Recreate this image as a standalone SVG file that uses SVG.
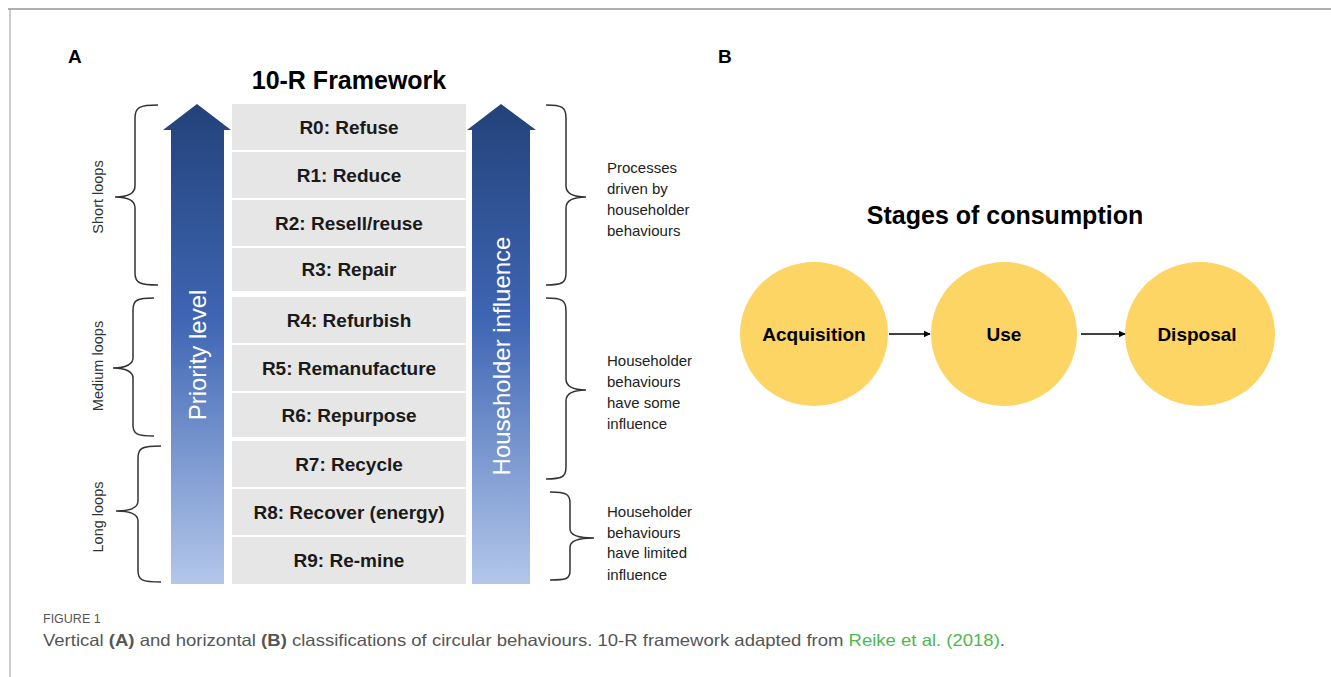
<svg xmlns="http://www.w3.org/2000/svg" width="1331" height="677" viewBox="0 0 1331 677">
<defs>
<linearGradient id="arrowGrad" x1="0" y1="104" x2="0" y2="584" gradientUnits="userSpaceOnUse">
<stop offset="0" stop-color="#23427a"/>
<stop offset="0.45" stop-color="#3f66b4"/>
<stop offset="1" stop-color="#b3c7ea"/>
</linearGradient>
<marker id="ah" viewBox="0 0 10 10" refX="9" refY="5" markerWidth="7" markerHeight="7" orient="auto" markerUnits="userSpaceOnUse">
<path d="M0,0 L10,5 L0,10 z" fill="#000"/>
</marker>
<style>
.lbl{font-family:"Liberation Sans",Arial,sans-serif;font-weight:bold;fill:#000;}
.title{font-family:"Liberation Sans",Arial,sans-serif;font-weight:bold;font-size:25px;fill:#000;text-anchor:middle;}
.row{fill:#e7e6e6;}
.rt{font-family:"Liberation Sans",Arial,sans-serif;font-weight:bold;font-size:19px;fill:#1a1a1a;text-anchor:middle;}
.arrtxt{font-family:"Liberation Sans",Arial,sans-serif;font-size:24px;fill:#fff;text-anchor:middle;}
.loop{font-family:"Liberation Sans",Arial,sans-serif;font-size:14.5px;fill:#333;text-anchor:middle;}
.side{font-family:"Liberation Sans",Arial,sans-serif;font-size:15px;fill:#222;}
.brace{fill:none;stroke:#333;stroke-width:1.5;}
.circ{fill:#fcd565;}
.ct{font-family:"Liberation Sans",Arial,sans-serif;font-weight:bold;font-size:19px;fill:#000;text-anchor:middle;}
.conn{stroke:#000;stroke-width:1.3;fill:none;}
.cap{font-family:"Liberation Sans",Arial,sans-serif;fill:#555;}
</style>
</defs>
<rect width="1331" height="677" fill="#fff"/>
<g id="frame">
<line x1="8" y1="9" x2="1331" y2="9" stroke="#b0b0b0" stroke-width="2"/>
<line x1="10" y1="9" x2="10" y2="677" stroke="#9a9a9a" stroke-width="1"/>
</g>
<g id="panelA">
<text class="lbl" x="68" y="63" font-size="19">A</text>
<text class="title" x="349" y="89">10-R Framework</text>
<g id="arrow-priority">
<path d="M171,584 L171,130 L163,130 L197,104 L231,130 L224,130 L224,584 Z" fill="url(#arrowGrad)"/>
<text class="arrtxt" transform="translate(206,355) rotate(-90)">Priority level</text>
</g>
<g id="arrow-householder">
<path d="M472,584 L472,130 L467,130 L501,104 L536,130 L530,130 L530,584 Z" fill="url(#arrowGrad)"/>
<text class="arrtxt" transform="translate(510,356) rotate(-90)">Householder influence</text>
</g>
<g id="r0"><rect class="row" x="232" y="104" width="234" height="46"/><text class="rt" x="349" y="134">R0: Refuse</text></g>
<g id="r1"><rect class="row" x="232" y="152" width="234" height="46"/><text class="rt" x="349" y="182">R1: Reduce</text></g>
<g id="r2"><rect class="row" x="232" y="200" width="234" height="46"/><text class="rt" x="349" y="230">R2: Resell/reuse</text></g>
<g id="r3"><rect class="row" x="232" y="248" width="234" height="43"/><text class="rt" x="349" y="276">R3: Repair</text></g>
<g id="r4"><rect class="row" x="232" y="297" width="234" height="46"/><text class="rt" x="349" y="327">R4: Refurbish</text></g>
<g id="r5"><rect class="row" x="232" y="345" width="234" height="46"/><text class="rt" x="349" y="375">R5: Remanufacture</text></g>
<g id="r6"><rect class="row" x="232" y="393" width="234" height="44"/><text class="rt" x="349" y="422">R6: Repurpose</text></g>
<g id="r7"><rect class="row" x="232" y="441" width="234" height="46"/><text class="rt" x="349" y="471">R7: Recycle</text></g>
<g id="r8"><rect class="row" x="232" y="489" width="234" height="46"/><text class="rt" x="349" y="519">R8: Recover (energy)</text></g>
<g id="r9"><rect class="row" x="232" y="537" width="234" height="47"/><text class="rt" x="349" y="567">R9: Re-mine</text></g>
<g id="short-loops">
<path class="brace" d="M158,105 C140,105 135,107 135,118 L135,186 C135,193 128,197 115,197 C128,197 135,201 135,208 L135,273 C135,283 140,285 158,285"/>
<text class="loop" transform="translate(103,197) rotate(-90)">Short loops</text>
</g>
<g id="medium-loops">
<path class="brace" d="M154,298 C137,298 133,300 133,310 L133,358 C133,364 126,368 113,368 C126,368 133,372 133,378 L133,425 C133,434 137,436 154,436"/>
<text class="loop" transform="translate(103,366) rotate(-90)">Medium loops</text>
</g>
<g id="long-loops">
<path class="brace" d="M161,446 C142,446 138,448 138,458 L138,501 C138,507 131,511 116,511 C131,511 138,515 138,521 L138,571 C138,580 142,582 161,582"/>
<text class="loop" transform="translate(103,517) rotate(-90)">Long loops</text>
</g>
<g id="driven">
<path class="brace" d="M546,105 C562,105 566,107 566,118 L566,186 C566,193 573,197 586,197 C573,197 566,201 566,208 L566,273 C566,283 562,285 546,285"/>
<text class="side" x="607" y="173">Processes</text>
<text class="side" x="607" y="194">driven by</text>
<text class="side" x="607" y="215">householder</text>
<text class="side" x="607" y="236">behaviours</text>
</g>
<g id="some-influence">
<path class="brace" d="M546,298 C562,298 566,300 566,311 L566,379 C566,386 573,390 586,390 C573,390 566,394 566,401 L566,467 C566,477 562,479 546,479"/>
<text class="side" x="607" y="366">Householder</text>
<text class="side" x="607" y="387">behaviours</text>
<text class="side" x="607" y="408">have some</text>
<text class="side" x="607" y="429">influence</text>
</g>
<g id="limited-influence">
<path class="brace" d="M550,492 C566,492 570,494 570,503 L570,529 C570,535 577,538 594,538 C577,538 570,541 570,547 L570,571 C570,579 566,580 550,580"/>
<text class="side" x="607" y="517">Householder</text>
<text class="side" x="607" y="538">behaviours</text>
<text class="side" x="607" y="558">have limited</text>
<text class="side" x="607" y="580">influence</text>
</g>
</g>
<g id="panelB">
<text class="lbl" x="718" y="63" font-size="19">B</text>
<text class="title" x="1005" y="224">Stages of consumption</text>
<g id="acquisition"><ellipse class="circ" cx="814" cy="334" rx="74" ry="72"/><text class="ct" x="814" y="341">Acquisition</text></g>
<g id="use"><ellipse class="circ" cx="1004" cy="334" rx="73" ry="72"/><text class="ct" x="1004" y="341">Use</text></g>
<g id="disposal"><ellipse class="circ" cx="1200" cy="334" rx="75" ry="72"/><text class="ct" x="1197" y="341">Disposal</text></g>
<g id="connectors">
<line class="conn" x1="889" y1="334" x2="930" y2="334" marker-end="url(#ah)"/>
<line class="conn" x1="1081" y1="334" x2="1125" y2="334" marker-end="url(#ah)"/>
</g>
</g>
<g id="caption">
<text class="cap" x="43" y="623" font-size="12.5">FIGURE 1</text>
<text class="cap" x="43" y="646" font-size="16.5" textLength="962" lengthAdjust="spacingAndGlyphs">Vertical <tspan font-weight="bold">(A)</tspan> and horizontal <tspan font-weight="bold">(B)</tspan> classifications of circular behaviours. 10-R framework adapted from <tspan fill="#4cb84c">Reike et al. (2018)</tspan>.</text>
</g>
</svg>
